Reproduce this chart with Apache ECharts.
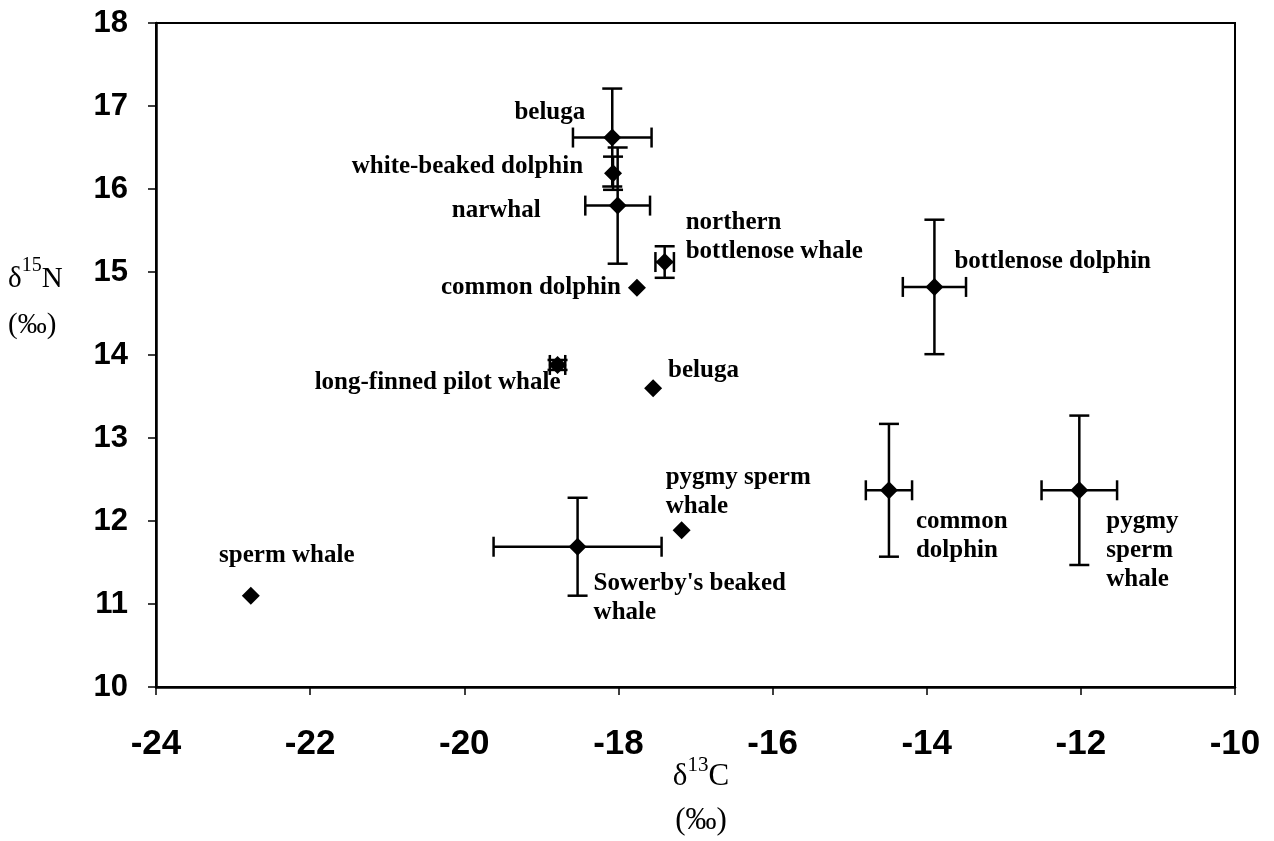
<!DOCTYPE html>
<html>
<head>
<meta charset="utf-8">
<script src="https://cdn.jsdelivr.net/npm/echarts@6/dist/echarts.min.js"></script>
<style>
html,body{margin:0;padding:0;background:#fff;}
#chart{width:1274px;height:841px;}
</style>
</head>
<body>
<div id="chart"></div>
<script>
// ---- data ----
const names = [
  'beluga', 'white-beaked dolphin', 'narwhal', 'northern\nbottlenose whale',
  'common dolphin', 'long-finned pilot whale', 'beluga', 'bottlenose dolphin',
  'pygmy sperm\nwhale', "Sowerby's beaked\nwhale", 'common\ndolphin',
  'pygmy\nsperm\nwhale', 'sperm whale'
];
const d13C = [-18.08, -18.07, -18.01, -17.40, -17.76, -18.79, -17.55, -13.90, -17.18, -18.53, -14.49, -12.02, -22.77];
const d15N = [16.62, 16.19, 15.80, 15.12, 14.81, 13.88, 13.60, 14.82, 11.89, 11.69, 12.37, 12.37, 11.10];
const errC = [0.51, 0.00, 0.42, 0.12, 0.00, 0.10, 0.00, 0.41, 0.00, 1.09, 0.30, 0.49, 0.00];
const errN = [0.59, 0.20, 0.70, 0.19, 0.00, 0.06, 0.00, 0.81, 0.00, 0.59, 0.80, 0.90, 0.00];
const xTicks = [-24, -22, -20, -18, -16, -14, -12, -10];
const yTicks = [10, 11, 12, 13, 14, 15, 16, 17, 18];

// ---- label layout (pixel offsets from the marker, kept apart from the data) ----
const labelLayout = [
  {align: 'right', dx: -27, dy: -25},
  {align: 'right', dx: -30, dy: -7},
  {align: 'right', dx: -77, dy: 5},
  {align: 'left',  dx: 21,  dy: -25},
  {align: 'right', dx: -16, dy: 0},
  {align: 'right', dx: 3,   dy: 18},
  {align: 'left',  dx: 15,  dy: -18},
  {align: 'left',  dx: 20,  dy: -25},
  {align: 'left',  dx: -16, dy: -38},
  {align: 'left',  dx: 16,  dy: 51},
  {align: 'left',  dx: 27,  dy: 46},
  {align: 'left',  dx: 27,  dy: 60},
  {align: 'center',dx: 36,  dy: -40}
];

const pointData = names.map((n, i) => ({name: n, value: [d13C[i], d15N[i]]}));
const errData = names.map((n, i) => [d13C[i], d15N[i], errC[i], errN[i]]);

const CAP = 10;
function renderErr(params, api) {
  const x = api.value(0), y = api.value(1), ex = api.value(2), ey = api.value(3);
  const children = [];
  const st = {stroke: '#000', lineWidth: 2.5};
  if (ex > 0) {
    const a = api.coord([x - ex, y]), b = api.coord([x + ex, y]);
    children.push({type: 'line', shape: {x1: a[0], y1: a[1], x2: b[0], y2: b[1]}, style: st});
    children.push({type: 'line', shape: {x1: a[0], y1: a[1] - CAP, x2: a[0], y2: a[1] + CAP}, style: st});
    children.push({type: 'line', shape: {x1: b[0], y1: b[1] - CAP, x2: b[0], y2: b[1] + CAP}, style: st});
  }
  if (ey > 0) {
    const a = api.coord([x, y + ey]), b = api.coord([x, y - ey]);
    children.push({type: 'line', shape: {x1: a[0], y1: a[1], x2: b[0], y2: b[1]}, style: st});
    children.push({type: 'line', shape: {x1: a[0] - CAP, y1: a[1], x2: a[0] + CAP, y2: a[1]}, style: st});
    children.push({type: 'line', shape: {x1: b[0] - CAP, y1: b[1], x2: b[0] + CAP, y2: b[1]}, style: st});
  }
  return {type: 'group', children: children};
}

const chart = echarts.init(document.getElementById('chart'), null, {renderer: 'canvas'});
const serif = "'Liberation Serif', 'Times New Roman', serif";
const sans = "'Liberation Sans', Arial, sans-serif";

chart.setOption({
  backgroundColor: '#fff',
  animation: false,
  grid: {left: 156, right: 39, top: 23, bottom: 154, show: true, borderColor: '#000', borderWidth: 2, backgroundColor: 'transparent'},
  xAxis: {
    type: 'value', min: xTicks[0], max: xTicks[xTicks.length - 1], interval: 2,
    axisLine: {show: true, onZero: false, lineStyle: {color: '#000', width: 2.5}},
    axisTick: {show: true, inside: false, length: 8, lineStyle: {color: '#000', width: 1.5}},
    axisLabel: {color: '#000', fontFamily: sans, fontWeight: 'bold', fontSize: 35, margin: 40},
    splitLine: {show: false}
  },
  yAxis: {
    type: 'value', min: yTicks[0], max: yTicks[yTicks.length - 1], interval: 1,
    axisLine: {show: true, onZero: false, lineStyle: {color: '#000', width: 2.5}},
    axisTick: {show: true, inside: false, length: 8, lineStyle: {color: '#000', width: 1.5}},
    axisLabel: {color: '#000', fontFamily: sans, fontWeight: 'bold', fontSize: 31, margin: 28},
    splitLine: {show: false}
  },
  graphic: [
    {
      type: 'text', left: 8, top: 256,
      style: {
        text: '{m|δ}{s|15}{m|N}\n{m|(‰)}',
        rich: {
          m: {fontFamily: serif, fontSize: 29, color: '#000', lineHeight: 46},
          s: {fontFamily: serif, fontSize: 20, color: '#000', verticalAlign: 'top', lineHeight: 46, padding: [0, 0, 14, 0]}
        },
        fill: '#000'
      }
    },
    {
      type: 'text', x: 701, y: 755,
      style: {
        text: '{m|δ}{s|13}{m|C}\n{m|(‰)}',
        align: 'center',
        rich: {
          m: {fontFamily: serif, fontSize: 31, color: '#000', lineHeight: 44, align: 'center'},
          s: {fontFamily: serif, fontSize: 21, color: '#000', verticalAlign: 'top', lineHeight: 44, padding: [0, 0, 14, 0]}
        },
        fill: '#000'
      }
    }
  ],
  series: [
    {
      type: 'custom', renderItem: renderErr, data: errData, z: 2,
      encode: {x: 0, y: 1}, silent: true
    },
    {
      type: 'scatter', data: pointData, symbol: 'diamond', symbolSize: 18, z: 3,
      itemStyle: {color: '#000', opacity: 1},
      label: {show: true, position: 'inside', formatter: p => p.name, color: '#000', opacity: 1,
              fontFamily: serif, fontWeight: 'bold', fontSize: 25, lineHeight: 29},
      labelLayout: function (p) {
        const L = labelLayout[p.dataIndex];
        const cx = p.rect.x + p.rect.width / 2, cy = p.rect.y + p.rect.height / 2;
        return {x: cx + L.dx, y: cy + L.dy, align: L.align, verticalAlign: 'middle', hideOverlap: false};
      },
      emphasis: {disabled: true}
    }
  ]
});
</script>
</body>
</html>
